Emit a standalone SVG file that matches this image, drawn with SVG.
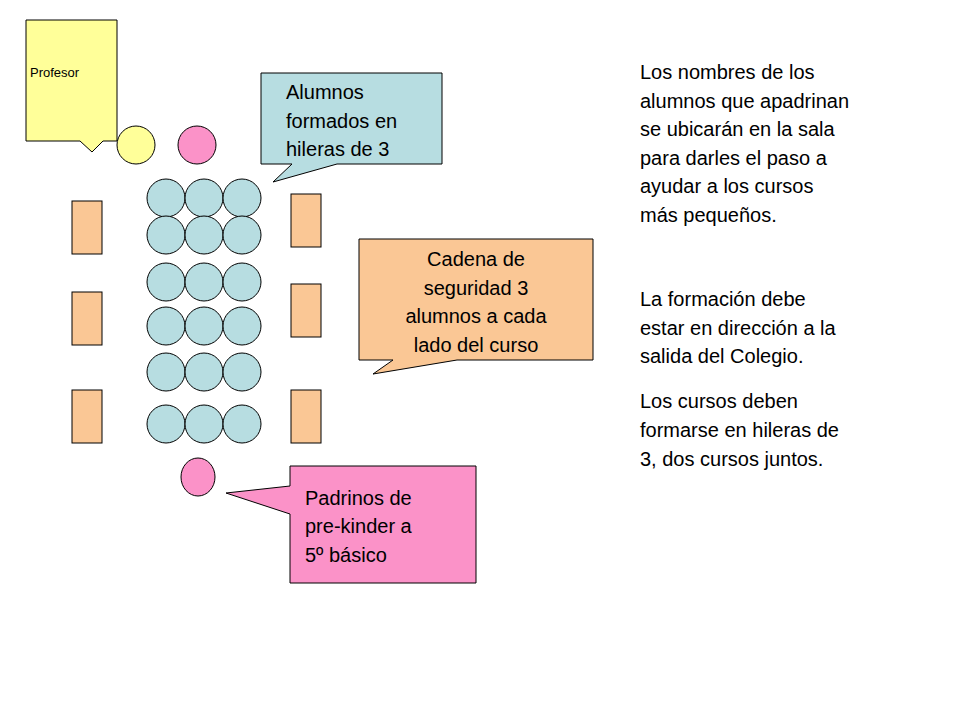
<svg xmlns="http://www.w3.org/2000/svg" width="960" height="720" viewBox="0 0 960 720">
<style>
text{font-family:"Liberation Sans",Arial,sans-serif;font-size:20px;fill:#000}
.s{stroke:#000;stroke-width:1}
.b{fill:#b7dde1}.o{fill:#fac795}.p{fill:#fb92c8}.y{fill:#ffff99}
</style>
<rect width="960" height="720" fill="#fff"/>
<g id="profesor"><path class="s y" d="M26,20H117V141H103L92,152L80,141H26Z"/><text x="30" y="77" style="font-size:13px">Profesor</text></g>
<g id="circulos-superiores"><circle class="s y" cx="136" cy="145" r="19"/><circle class="s p" cx="197" cy="145" r="19"/></g>
<g id="alumnos-callout"><path class="s b" d="M261,73H442V164H337L273,182L292,164H261Z"/>
<text x="286" y="99">Alumnos</text><text x="286" y="128">formados en</text><text x="286" y="156">hileras de 3</text></g>
<g id="alumnos">
<g class="s b">
<circle cx="166" cy="198" r="19"/><circle cx="204" cy="198" r="19"/><circle cx="242" cy="198" r="19"/>
<circle cx="166" cy="235" r="19"/><circle cx="204" cy="235" r="19"/><circle cx="242" cy="235" r="19"/>
<circle cx="166" cy="282" r="19"/><circle cx="204" cy="282" r="19"/><circle cx="242" cy="282" r="19"/>
<circle cx="166" cy="326" r="19"/><circle cx="204" cy="326" r="19"/><circle cx="242" cy="326" r="19"/>
<circle cx="166" cy="372" r="19"/><circle cx="204" cy="372" r="19"/><circle cx="242" cy="372" r="19"/>
<circle cx="166" cy="424" r="19"/><circle cx="204" cy="424" r="19"/><circle cx="242" cy="424" r="19"/>
</g></g>
<g id="cadena"><g class="s o">
<rect x="72" y="201" width="30" height="53"/><rect x="72" y="292" width="30" height="53"/><rect x="72" y="390" width="30" height="53"/>
<rect x="291" y="194" width="30" height="53"/><rect x="291" y="284" width="30" height="53"/><rect x="291" y="390" width="30" height="53"/>
</g></g>
<g id="cadena-callout"><path class="s o" d="M359,239H593V360H457L373,374L393,360H359Z"/>
<g text-anchor="middle"><text x="476" y="266">Cadena de</text><text x="476" y="295">seguridad 3</text><text x="476" y="323">alumnos a cada</text><text x="476" y="352">lado del curso</text></g></g>
<g id="padrino"><ellipse class="s p" cx="198" cy="477" rx="17" ry="19"/></g>
<g id="padrinos-callout"><path class="s p" d="M290,466H476V583H290V514L226,493L290,486Z"/>
<text x="305" y="505">Padrinos de</text><text x="305" y="533">pre-kinder a</text><text x="305" y="562">5º básico</text></g>
<g id="notas">
<text x="640" y="79">Los nombres de los</text><text x="640" y="108">alumnos que apadrinan</text><text x="640" y="136">se ubicarán en la sala</text><text x="640" y="165">para darles el paso  a</text><text x="640" y="193">ayudar a los cursos</text><text x="640" y="222">más pequeños.</text>
<text x="640" y="306">La formación debe</text><text x="640" y="335">estar en dirección a la</text><text x="640" y="363">salida del Colegio.</text>
<text x="640" y="408">Los cursos deben</text><text x="640" y="437">formarse en hileras de</text><text x="640" y="466">3, dos cursos juntos.</text>
</g>
<g id="connectors"/>
</svg>
